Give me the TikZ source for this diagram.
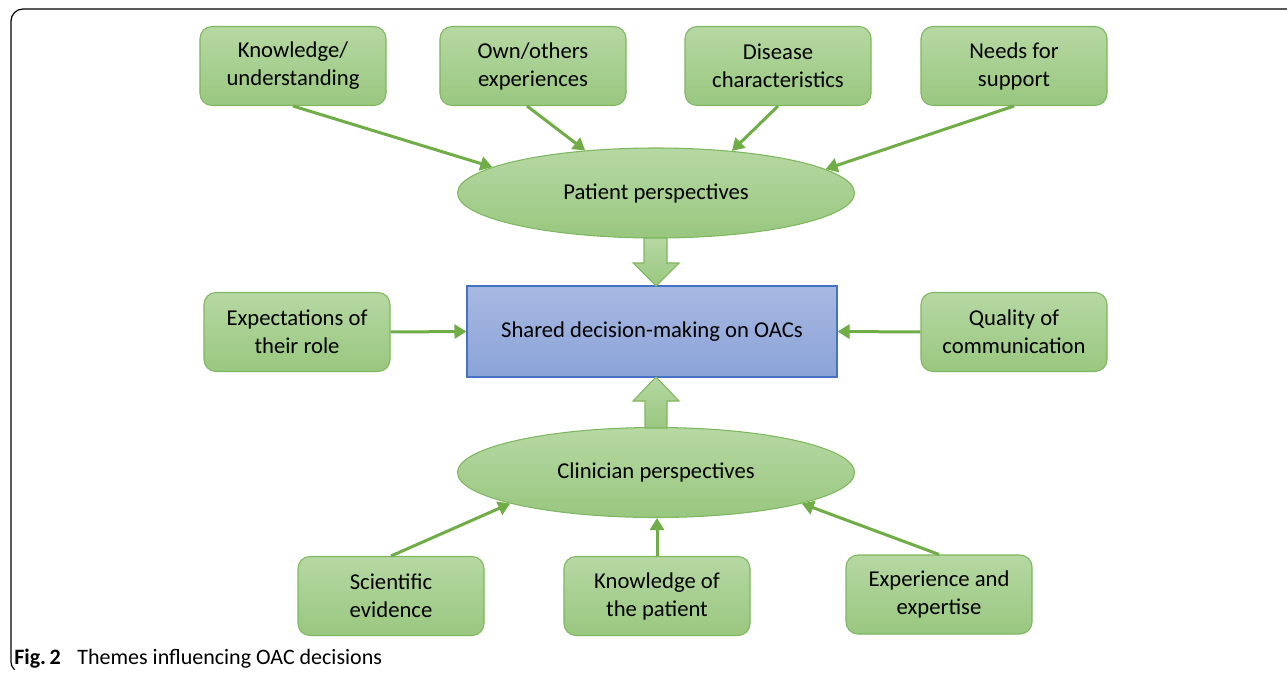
\documentclass[tikz,border=0pt]{standalone}
\usepackage{fontspec}
\setmainfont{Carlito}
\usetikzlibrary{shapes.geometric,arrows.meta}

\definecolor{oacgreen}{HTML}{70AD47}
\definecolor{boxtop}{HTML}{B6D8A3}
\definecolor{boxbot}{HTML}{99C77F}
\definecolor{boxline}{HTML}{7DB75E}
\definecolor{bluetop}{HTML}{A8B8E1}
\definecolor{bluebot}{HTML}{8AA3D8}
\definecolor{blueline}{HTML}{4472C4}

\tikzset{
  theme/.style={draw=boxline, line width=.8pt, top color=boxtop, bottom color=boxbot,
    rounded corners=9pt, minimum width=139.5pt, minimum height=59.25pt,
    align=center, font=\fontsize{17}{21}\selectfont, inner sep=2pt},
  persp/.style={ellipse, draw=boxline, line width=.8pt, top color=boxtop, bottom color=boxbot,
    minimum width=297.75pt, minimum height=67.5pt, inner sep=0pt,
    font=\fontsize{17}{21}\selectfont},
  shared/.style={draw=blueline, line width=.8pt, top color=bluetop, bottom color=bluebot,
    minimum width=277.5pt, minimum height=68.25pt, inner sep=0pt,
    font=\fontsize{17}{21}\selectfont},
  link/.style={draw=oacgreen, line width=2.25pt, -{Triangle[length=9pt,width=10.5pt]}},
  bigarrow/.style={draw=boxline, line width=.8pt, top color=boxtop, bottom color=boxbot}
}

\begin{document}
\begin{tikzpicture}[x=0.75pt,y=-0.75pt]
\useasboundingbox (0,0) rectangle (1287,674);

% frame
\draw[line width=.9pt] (1287,9) -- (23,9) arc (270:180:12) -- (11,662) arc (180:130:10);

% top themes
\node[theme] (know) at (293,66) {Knowledge/\\understanding};
\node[theme] (own) at (533,66) {Own/others\\experiences};
\node[theme] (dis) at (778,66) {Disease\\characteristics};
\node[theme] (need) at (1014,66) {Needs for\\support};

\node[persp] (pat) at (656,193) {Patient perspectives};

% centre
\node[shared] (sdm) at (652,331.5) {Shared decision-making on OACs};
\node[theme] (expc) at (297,332) {Expectations of\\their role};
\node[theme] (qual) at (1014,332) {Quality of\\communication};

\node[persp] (cli) at (656,472.5) {Clinician perspectives};

% bottom themes
\node[theme] (sci) at (391,596) {Scientific\\evidence};
\node[theme] (kpat) at (657,596) {Knowledge of\\the patient};
\node[theme] (exp) at (939,594.5) {Experience and\\expertise};

% block arrows
\draw[bigarrow] (644,238) -- (667,238) -- (667,263) -- (679,263) -- (656,286)
   -- (633,263) -- (644,263) -- cycle;
\draw[bigarrow] (645,428) -- (667,428) -- (667,401) -- (679,401) -- (656,377)
   -- (633,401) -- (645,401) -- cycle;

% connectors
\draw[link] (know.south) -- (pat.171.6);
\draw[link] ([xshift=-4.5pt]own.south) -- (pat.149.3);
\draw[link] (dis.south) -- (pat.29);
\draw[link] (need.south) -- (pat.8.4);
\draw[link] (expc.east) -- (sdm.west);
\draw[link] (qual.west) -- (sdm.east);
\draw[link] (sci.north) -- (cli.192.2);
\draw[link] (kpat.north) -- (kpat.north |- cli.south);
\draw[link] (exp.north) -- (cli.348);

% caption
\node[anchor=base west, inner sep=0pt, font=\fontsize{16.5}{19}\selectfont] (cap) at (14,664)
  {\textbf{Fig.\,2}\hspace{0.75em}Themes influencing OAC decisions};
\end{tikzpicture}
\end{document}
